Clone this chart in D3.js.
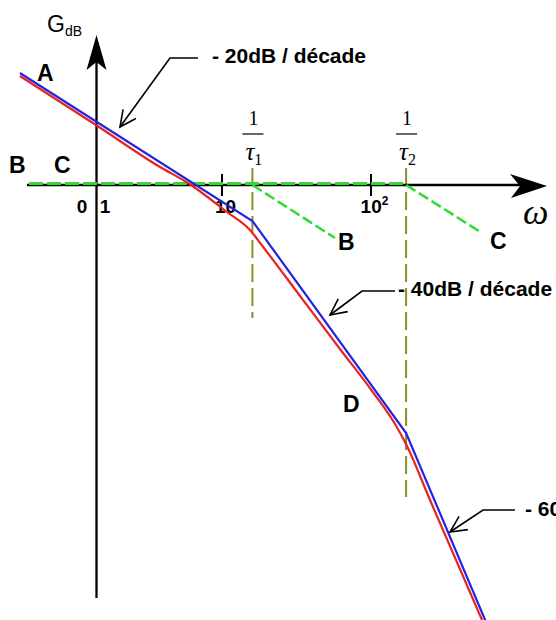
<!DOCTYPE html>
<html>
<head>
<meta charset="utf-8">
<script src="https://cdn.jsdelivr.net/npm/d3@7"></script>
<style>
  body { margin: 0; background: #fff; }
  svg { display: block; }
</style>
</head>
<body>
<svg id="chart" width="556" height="620"></svg>
<script>
// Bode magnitude plot: asymptotic gain, real gain and two first-order terms

// frequency ticks on the ω axis
const tickValues = [10, 100];
const tickBase = ["10", "10"];
const tickExp = ["", "2"];

// corner frequencies 1/τ1 and 1/τ2
const cornerFreqs = [16, 172];
const cornerSubs = ["1", "2"];

// blue: asymptotic (broken-line) gain
const asymOmega = [0.249, 16, 172, 591];
const asymDb = [22.4, -7.2, -49.6, -87.4];

// red: real gain curve
const realOmega = [0.249, 1, 3.22, 5.37, 10.8, 15.4, 18.9, 33.4, 61.9, 101.6, 144.9, 171.8, 248.9, 556];
const realDb = [21.8, 12, 3.6, 0.4, -5.4, -9, -12.4, -22.2, -32.8, -41.2, -47.8, -51.8, -63, -87];

// green: first-order terms B and C (0 dB up to the corner, then falling)
const termStartOmega = 0.294;
const termBEndOmega = 57.3, termBEndDb = -10.6;
const termCEndOmega = 556, termCEndDb = -9.6;

// slope annotations
const slopeLabels = ["- 20dB / décade", "- 40dB / décade", "- 60dB / décade"];
const slopeTipOmega = [1.55, 53.1, 339];
const slopeTipDb = [11.6, -26, -69.4];

const svg = d3.select("#chart");

// log frequency axis (decades drawn with slightly different widths)
const x = d3.scaleLog().domain([1, 10, 100]).range([96, 222, 371]);
const y = d3.scaleLinear().domain([0, 20]).range([185, 85]);

const boldFont = "'Liberation Sans', Arial, sans-serif";
const serifFont = "'Liberation Serif', 'Times New Roman', serif";
const x0 = x(1), y0 = y(0);

// ---- corner-frequency guides ----
const guideBottoms = [318, 497];
cornerFreqs.forEach((f, i) => {
  svg.append("line")
    .attr("x1", x(f)).attr("x2", x(f))
    .attr("y1", 168).attr("y2", guideBottoms[i])
    .attr("stroke", "#8e8e22").attr("stroke-width", 2)
    .attr("stroke-dasharray", "18,6");
  const g = svg.append("g").attr("font-family", serifFont);
  g.append("text").attr("x", x(f) + 1).attr("y", 125)
    .attr("text-anchor", "middle").attr("font-size", 20).text("1");
  g.append("line")
    .attr("x1", x(f) - 10).attr("x2", x(f) + 11)
    .attr("y1", 134).attr("y2", 134)
    .attr("stroke", "#000").attr("stroke-width", 1.2);
  const t = g.append("text").attr("x", x(f) - 7).attr("y", 160)
    .attr("font-size", 25);
  t.append("tspan").attr("font-style", "italic").text("τ");
  t.append("tspan").attr("font-size", 16).attr("dy", 5).text(cornerSubs[i]);
});

// ---- axes ----
svg.append("line")
  .attr("x1", 27).attr("x2", 520).attr("y1", y0).attr("y2", y0)
  .attr("stroke", "#000").attr("stroke-width", 2.3);
svg.append("path")
  .attr("d", `M547,${y0 + 1} L510,${y0 - 11} L520,${y0 + 1} L511,${y0 + 13} Z`)
  .attr("fill", "#000");
svg.append("line")
  .attr("x1", x0 + 0.5).attr("x2", x0 + 0.5).attr("y1", 598).attr("y2", 60)
  .attr("stroke", "#000").attr("stroke-width", 2.3);
svg.append("path")
  .attr("d", `M${x0 + 0.5},35 L${x0 + 10.5},70 L${x0 + 0.5},62 L${x0 - 9.5},70 Z`)
  .attr("fill", "#000");

// ticks and labels
tickValues.forEach((v, i) => {
  svg.append("line")
    .attr("x1", x(v)).attr("x2", x(v))
    .attr("y1", y0 - 11).attr("y2", y0 + 11)
    .attr("stroke", "#000").attr("stroke-width", 2);
  const t = svg.append("text")
    .attr("x", x(v) + 3.5).attr("y", 213)
    .attr("text-anchor", "middle")
    .attr("font-family", boldFont).attr("font-weight", "bold")
    .attr("font-size", 19);
  t.append("tspan").text(tickBase[i]);
  if (tickExp[i]) t.append("tspan").attr("font-size", 12).attr("dy", -8).text(tickExp[i]);
});
svg.append("text").attr("x", x0 - 14).attr("y", 213).attr("text-anchor", "middle")
  .attr("font-family", boldFont).attr("font-weight", "bold").attr("font-size", 19).text("0");
svg.append("text").attr("x", x0 + 9).attr("y", 213).attr("text-anchor", "middle")
  .attr("font-family", boldFont).attr("font-weight", "bold").attr("font-size", 19).text("1");

// axis titles
const gt = svg.append("text").attr("x", 47).attr("y", 32)
  .attr("font-family", boldFont).attr("font-size", 23);
gt.append("tspan").text("G");
gt.append("tspan").attr("font-size", 14).attr("dy", 4).text("dB");
svg.append("text").attr("x", 523).attr("y", 224)
  .attr("font-family", serifFont).attr("font-style", "italic")
  .attr("font-size", 36).text("ω");

// ---- first-order terms (green) ----
const lineGen = d3.line().x(d => x(d[0])).y(d => y(d[1]));
const green = "#2edb2e";
svg.append("path")
  .datum([[termStartOmega, 0], [cornerFreqs[1], 0]])
  .attr("d", lineGen).attr("fill", "none")
  .attr("stroke", green).attr("stroke-width", 3)
  .attr("stroke-dasharray", "14,4")
  .attr("transform", "translate(0,-1.5)");
[[cornerFreqs[0], termBEndOmega, termBEndDb], [cornerFreqs[1], termCEndOmega, termCEndDb]]
  .forEach(([f, eo, ed]) => {
    svg.append("path")
      .datum([[f, 0], [eo, ed]])
      .attr("d", lineGen).attr("fill", "none")
      .attr("stroke", green).attr("stroke-width", 2.5)
      .attr("stroke-dasharray", "11,4");
  });

// ---- gain curves ----
svg.append("path")
  .datum(d3.zip(realOmega, realDb))
  .attr("d", lineGen.curve(d3.curveMonotoneX)).attr("fill", "none")
  .attr("stroke", "#e82323").attr("stroke-width", 2.2);
svg.append("path")
  .datum(d3.zip(asymOmega, asymDb))
  .attr("d", d3.line().x(d => x(d[0])).y(d => y(d[1]))).attr("fill", "none")
  .attr("stroke", "#2323e0").attr("stroke-width", 2.2);

// ---- curve letters ----
const letters = [
  { t: "A", px: 37, py: 81 },
  { t: "B", px: 9, py: 173 },
  { t: "C", px: 54, py: 173 },
  { t: "B", px: x(termBEndOmega) + 3, py: y(termBEndDb) + 12 },
  { t: "C", px: x(termCEndOmega) + 8, py: y(termCEndDb) + 16 },
  { t: "D", px: 343, py: 412 }
];
svg.selectAll("text.letter").data(letters).enter().append("text")
  .attr("class", "letter")
  .attr("x", d => d.px).attr("y", d => d.py)
  .attr("font-family", boldFont).attr("font-weight", "bold").attr("font-size", 23)
  .text(d => d.t);

// ---- slope annotations with open arrowheads ----
const leader = [
  { knee: [50, -69], run: 28, tx: 14, ty: 5 },
  { knee: [32, -24], run: 33, tx: 3, ty: 5 },
  { knee: [33, -22], run: 32, tx: 10, ty: 6 }
];
slopeLabels.forEach((lab, i) => {
  const tx = x(slopeTipOmega[i]), ty = y(slopeTipDb[i]);
  const L = leader[i];
  const kx = tx + L.knee[0], ky = ty + L.knee[1];
  const ex = kx + L.run;
  svg.append("path")
    .attr("d", `M${ex},${ky} L${kx},${ky} L${tx},${ty}`)
    .attr("fill", "none").attr("stroke", "#000").attr("stroke-width", 1.6);
  const ang = Math.atan2(ky - ty, kx - tx);
  const spread = 26 * Math.PI / 180, len = 18;
  const hx1 = tx + len * Math.cos(ang - spread), hy1 = ty + len * Math.sin(ang - spread);
  const hx2 = tx + len * Math.cos(ang + spread), hy2 = ty + len * Math.sin(ang + spread);
  svg.append("path")
    .attr("d", `M${hx1},${hy1} L${tx},${ty} L${hx2},${hy2}`)
    .attr("fill", "none").attr("stroke", "#000").attr("stroke-width", 1.6);
  svg.append("text")
    .attr("x", ex + L.tx).attr("y", ky + L.ty)
    .attr("font-family", boldFont).attr("font-weight", "bold").attr("font-size", 21)
    .text(lab);
});
</script>
</body>
</html>
